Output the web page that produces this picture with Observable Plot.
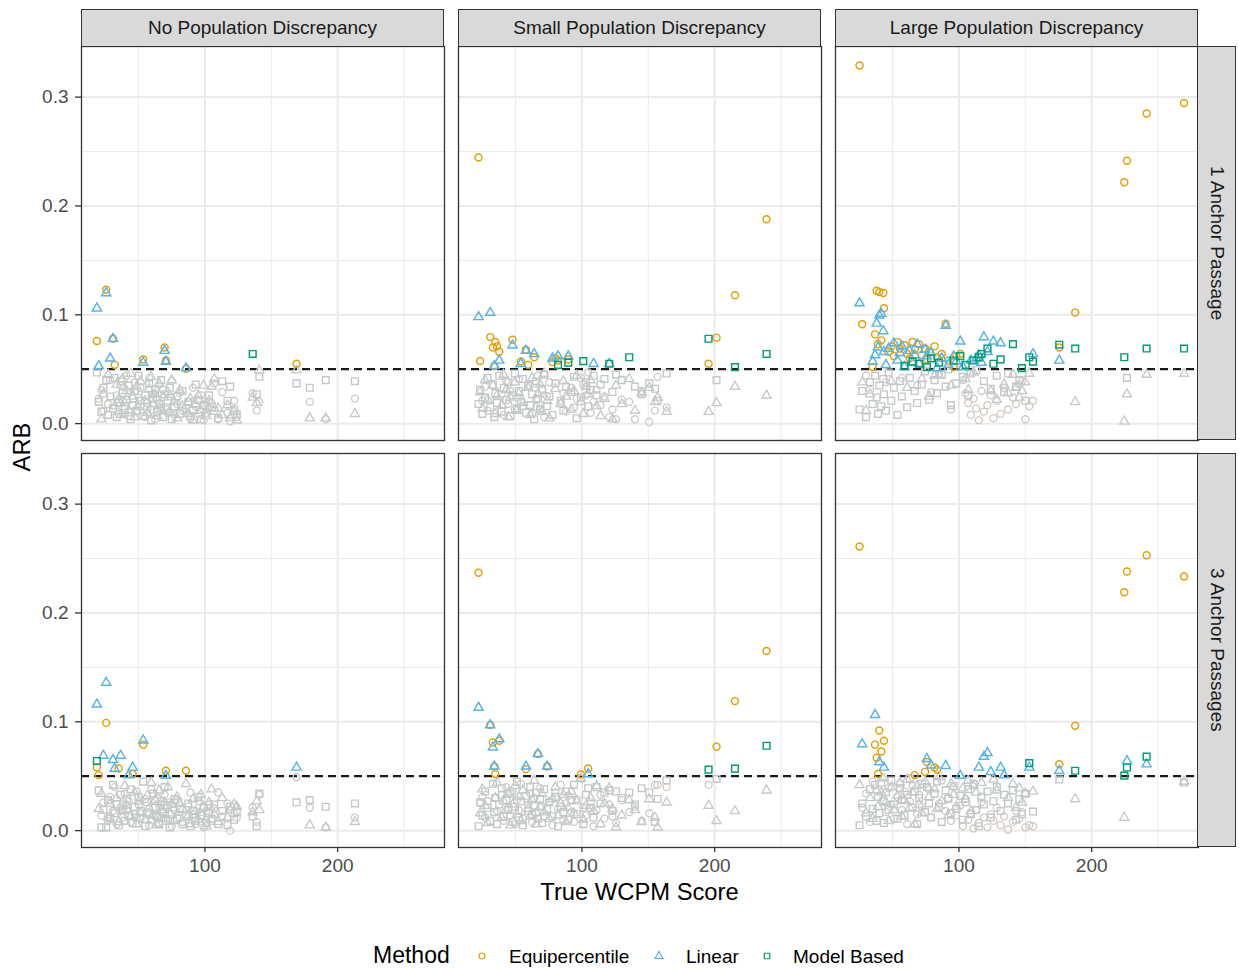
<!DOCTYPE html>
<html><head><meta charset="utf-8">
<script src="https://cdn.jsdelivr.net/npm/d3@7"></script>
<script src="https://cdn.jsdelivr.net/npm/@observablehq/plot@0.6"></script>
<style>
body{margin:0;background:#fff;font-family:"Liberation Sans",Arial,sans-serif;}
#wrap{position:relative;width:1239px;height:968px;overflow:hidden;}
#wrap svg.plot{position:absolute;}
.strip{position:absolute;background:#D9D9D9;border:1.3px solid #333;box-sizing:border-box;display:flex;align-items:center;justify-content:center;font-size:19px;color:#1A1A1A;white-space:nowrap;}
.vstrip{writing-mode:vertical-rl;}
.lbl{position:absolute;white-space:nowrap;color:#000;line-height:1;}
</style></head>
<body><div id="wrap"></div>
<script>
// ---------------- data ----------------
const colLabels = ["No Population Discrepancy","Small Population Discrepancy","Large Population Discrepancy"];
const rowLabels = ["1 Anchor Passage","3 Anchor Passages"];
const methods = ["Equipercentile","Linear","Model Based"];
const xTicks = [100, 200];
const yTicks = [0, 0.1, 0.2, 0.3];
const cutoff = 0.05;

// True WCPM score of each passage (shared by the three methods within a column)
const passages_none = [18.6,20,22,23.5,25.6,27,28.6,30.7,32,33.5,
 35,36.5,38,39.5,41,42.5,44,45.5,47,48.5,
 50,51.5,53.5,55,56.5,58,59.5,61,62.5,64,
 65.5,67,68.5,69.6,70.6,72,73.5,75,77,79,
 81,83,85.7,87.5,89,91,93,95,97,99,
 101,103,105,107,110,113,117,119,122,124,
 136,139,141,169,179,191,213];
const passages_small = [22.1,23.3,25,27,29,30.9,32.9,34,34.7,36,
 37.7,39.5,41,43,44.5,46,47.7,49.5,51,52.5,
 54,55.5,57.8,59.5,61,62.5,64,65.5,66.8,68.5,
 70,71.5,73.8,75.5,77.8,80,82,84,86,88,
 89.7,92,94,96,99.2,101,103,104.7,106.5,108.8,
 111,114,117,120.6,123,125.7,130,135.6,140,145,
 150.7,155,157,163.8,195.4,201.4,215.3,239.1];
const passages_large = [25.1,27.1,30,33,35,36.8,38,39,40,41.5,
 43,43.5,45,47,49,51,53.7,55.5,57,59,
 61,63,65,66.7,68.5,70,72,74.5,75.9,77.5,
 79,81.6,83.5,85,87,90,92,94,96,98,
 101,103,105,107,109,111,113,115,117,118.8,
 121.5,124,126,128.5,131.4,134,137,140.7,143,145.5,
 147.5,150,153,155.8,175.6,187.6,224.6,226.6,241.4,269.6];

// ARB: No discrepancy, 1 anchor
const arb_equi_none_1 = [0.076,0.023,0.031,0.012,0.123,0.018,0.040,0.078,0.054,0.026,
 0.009,0.035,0.021,0.014,0.044,0.007,0.029,0.017,0.038,0.011,
 0.024,0.033,0.059,0.006,0.019,0.042,0.013,0.027,0.004,0.022,
 0.036,0.015,0.031,0.070,0.058,0.010,0.025,0.039,0.008,0.018,
 0.028,0.012,0.0505,0.020,0.005,0.033,0.016,0.009,0.026,0.003,
 0.019,0.014,0.019,0.037,0.004,0.029,0.010,0.002,0.021,0.006,
 0.028,0.012,0.020,0.055,0.020,0.004,0.023];
const arb_lin_none_1 = [0.106,0.053,0.004,0.027,0.120,0.045,0.060,0.078,0.016,0.036,
 0.022,0.008,0.041,0.019,0.030,0.012,0.046,0.025,0.006,0.034,
 0.015,0.039,0.056,0.021,0.010,0.032,0.043,0.018,0.027,0.007,
 0.037,0.013,0.024,0.067,0.057,0.029,0.011,0.040,0.020,0.005,
 0.031,0.016,0.051,0.009,0.023,0.003,0.018,0.026,0.012,0.035,
 0.007,0.021,0.034,0.041,0.014,0.008,0.017,0.005,0.011,0.003,
 0.024,0.019,0.049,0.049,0.005,0.005,0.009];
const arb_mb_none_1 = [0.047,0.020,0.011,0.033,0.040,0.008,0.025,0.014,0.042,0.006,
 0.019,0.039,0.028,0.010,0.022,0.035,0.004,0.017,0.030,0.012,
 0.044,0.021,0.007,0.026,0.015,0.037,0.003,0.023,0.031,0.011,
 0.018,0.040,0.006,0.027,0.013,0.021,0.033,0.004,0.016,0.025,
 0.009,0.030,0.014,0.020,0.007,0.012,0.036,0.022,0.004,0.017,
 0.010,0.026,0.015,0.0117,0.005,0.039,0.021,0.034,0.013,0.0085,
 0.064,0.027,0.043,0.037,0.033,0.040,0.039];
// No discrepancy, 3 anchors
const arb_equi_none_3 = [0.058,0.051,0.014,0.026,0.099,0.009,0.031,0.018,0.040,0.006,
 0.057,0.022,0.012,0.034,0.019,0.027,0.008,0.052,0.015,0.036,
 0.024,0.011,0.079,0.029,0.017,0.005,0.038,0.021,0.013,0.030,
 0.007,0.024,0.016,0.033,0.055,0.010,0.026,0.004,0.019,0.028,
 0.012,0.008,0.055,0.022,0.035,0.015,0.006,0.027,0.011,0.003,
 0.018,0.024,0.009,0.020,0.035,0.013,0.025,0.0,0.016,0.012,
 0.021,0.008,0.033,0.049,0.021,0.003,0.012];
const arb_lin_none_3 = [0.116,0.020,0.034,0.069,0.136,0.012,0.025,0.065,0.057,0.030,
 0.008,0.069,0.018,0.041,0.023,0.051,0.013,0.058,0.035,0.006,
 0.027,0.016,0.083,0.010,0.032,0.021,0.044,0.014,0.028,0.005,
 0.037,0.019,0.011,0.026,0.0505,0.040,0.016,0.024,0.009,0.031,
 0.025,0.020,0.043,0.014,0.006,0.029,0.018,0.010,0.033,0.022,
 0.004,0.026,0.038,0.015,0.008,0.030,0.012,0.019,0.024,0.022,
 0.017,0.027,0.019,0.058,0.005,0.003,0.008];
const arb_mb_none_3 = [0.064,0.037,0.003,0.019,0.003,0.028,0.011,0.042,0.016,0.024,
 0.005,0.033,0.020,0.009,0.029,0.014,0.038,0.007,0.022,0.012,
 0.031,0.018,0.045,0.004,0.026,0.015,0.010,0.034,0.021,0.013,
 0.006,0.027,0.017,0.040,0.009,0.023,0.003,0.015,0.029,0.011,
 0.020,0.006,0.013,0.025,0.004,0.018,0.009,0.031,0.014,0.021,
 0.007,0.016,0.011,0.024,0.006,0.018,0.005,0.022,0.010,0.017,
 0.013,0.004,0.034,0.026,0.028,0.022,0.025];
// Small discrepancy, 1 anchor
const arb_equi_small_1 = [0.2446,0.0575,0.021,0.034,0.012,0.0795,0.070,0.053,0.075,0.071,
 0.066,0.027,0.008,0.039,0.018,0.030,0.077,0.013,0.024,0.041,
 0.057,0.016,0.068,0.054,0.035,0.009,0.061,0.022,0.044,0.014,
 0.031,0.006,0.025,0.038,0.0565,0.060,0.058,0.019,0.028,0.011,
 0.059,0.033,0.015,0.023,0.042,0.036,0.026,0.047,0.010,0.020,
 0.031,0.017,0.025,0.006,0.013,0.004,0.022,0.020,0.004,0.030,
 0.0015,0.012,0.043,0.015,0.055,0.079,0.118,0.1877];
const arb_lin_small_1 = [0.098,0.029,0.014,0.040,0.022,0.102,0.035,0.053,0.009,0.026,
 0.058,0.017,0.045,0.031,0.006,0.024,0.072,0.038,0.012,0.028,
 0.055,0.019,0.067,0.033,0.008,0.042,0.064,0.015,0.027,0.036,
 0.011,0.046,0.021,0.005,0.060,0.032,0.062,0.018,0.039,0.025,
 0.062,0.013,0.030,0.044,0.020,0.009,0.034,0.027,0.040,0.055,
 0.016,0.007,0.023,0.055,0.004,0.035,0.018,0.041,0.012,0.028,
 0.033,0.020,0.024,0.011,0.011,0.019,0.034,0.026];
const arb_mb_small_1 = [0.018,0.031,0.009,0.024,0.042,0.015,0.036,0.006,0.028,0.019,
 0.044,0.011,0.033,0.022,0.038,0.007,0.026,0.046,0.014,0.030,
 0.020,0.041,0.010,0.035,0.017,0.027,0.004,0.039,0.023,0.013,
 0.032,0.045,0.016,0.025,0.008,0.037,0.054,0.021,0.012,0.034,
 0.056,0.029,0.043,0.005,0.024,0.0575,0.038,0.016,0.031,0.044,
 0.026,0.036,0.041,0.055,0.029,0.045,0.040,0.061,0.034,0.027,
 0.037,0.032,0.021,0.046,0.078,0.040,0.052,0.064];
// Small discrepancy, 3 anchors
const arb_equi_small_3 = [0.237,0.025,0.031,0.012,0.027,0.097,0.081,0.059,0.052,0.018,
 0.0825,0.033,0.009,0.040,0.021,0.014,0.036,0.006,0.028,0.019,
 0.043,0.011,0.0565,0.024,0.034,0.008,0.030,0.016,0.0705,0.039,
 0.022,0.013,0.059,0.027,0.005,0.035,0.020,0.042,0.010,0.025,
 0.032,0.017,0.008,0.029,0.0515,0.021,0.014,0.057,0.026,0.004,
 0.019,0.033,0.011,0.024,0.013,0.007,0.028,0.017,0.022,0.009,
 0.016,0.042,0.042,0.040,0.042,0.077,0.119,0.165];
const arb_lin_small_3 = [0.113,0.016,0.038,0.023,0.007,0.097,0.0766,0.059,0.030,0.044,
 0.084,0.012,0.027,0.019,0.035,0.005,0.024,0.041,0.015,0.031,
 0.009,0.037,0.059,0.020,0.013,0.028,0.046,0.006,0.0705,0.022,
 0.034,0.017,0.059,0.011,0.029,0.040,0.014,0.025,0.033,0.008,
 0.021,0.036,0.016,0.027,0.048,0.010,0.023,0.052,0.030,0.018,
 0.041,0.006,0.025,0.039,0.020,0.003,0.014,0.028,0.019,0.008,
 0.029,0.012,0.003,0.026,0.023,0.009,0.018,0.037];
const arb_mb_small_3 = [0.004,0.026,0.014,0.036,0.021,0.009,0.043,0.017,0.030,0.006,
 0.024,0.039,0.013,0.028,0.019,0.034,0.008,0.022,0.045,0.012,
 0.027,0.005,0.032,0.018,0.040,0.015,0.023,0.035,0.011,0.029,
 0.007,0.038,0.020,0.026,0.013,0.031,0.004,0.022,0.017,0.036,
 0.010,0.028,0.042,0.015,0.048,0.006,0.033,0.039,0.021,0.012,
 0.040,0.025,0.035,0.037,0.018,0.036,0.030,0.035,0.024,0.039,
 0.035,0.008,0.029,0.046,0.056,0.0475,0.057,0.078];
// Large discrepancy, 1 anchor
const arb_equi_large_1 = [0.329,0.0914,0.044,0.031,0.052,0.082,0.122,0.073,0.121,0.0765,
 0.120,0.106,0.038,0.066,0.071,0.062,0.0749,0.069,0.042,0.072,
 0.064,0.060,0.075,0.068,0.035,0.073,0.063,0.069,0.059,0.066,
 0.029,0.071,0.061,0.046,0.064,0.0917,0.058,0.013,0.052,0.062,
 0.064,0.040,0.028,0.019,0.008,0.023,0.014,0.003,0.030,0.011,
 0.017,0.026,0.005,0.021,0.009,0.033,0.013,0.024,0.018,0.036,
 0.039,0.004,0.016,0.021,0.070,0.102,0.2217,0.2416,0.285,0.2945];
const arb_lin_large_1 = [0.1107,0.038,0.012,0.027,0.057,0.063,0.092,0.070,0.0994,0.101,
 0.085,0.066,0.054,0.069,0.039,0.074,0.058,0.065,0.071,0.052,
 0.033,0.067,0.056,0.063,0.073,0.055,0.041,0.068,0.062,0.025,
 0.065,0.044,0.051,0.044,0.060,0.090,0.054,0.035,0.062,0.057,
 0.0755,0.052,0.041,0.031,0.058,0.047,0.060,0.063,0.056,0.0795,
 0.066,0.030,0.0755,0.022,0.074,0.036,0.028,0.045,0.033,0.024,
 0.030,0.038,0.046,0.064,0.058,0.020,0.002,0.027,0.045,0.046];
const arb_mb_large_1 = [0.013,0.030,0.006,0.038,0.018,0.044,0.024,0.009,0.035,0.016,
 0.041,0.027,0.012,0.047,0.021,0.033,0.008,0.039,0.025,0.053,
 0.015,0.042,0.057,0.030,0.019,0.055,0.036,0.048,0.052,0.022,
 0.060,0.040,0.028,0.056,0.045,0.034,0.050,0.017,0.058,0.037,
 0.062,0.043,0.054,0.026,0.046,0.058,0.049,0.061,0.064,0.039,
 0.069,0.032,0.055,0.044,0.059,0.029,0.046,0.073,0.034,0.040,
 0.051,0.021,0.061,0.057,0.0725,0.069,0.061,0.042,0.069,0.069];
// Large discrepancy, 3 anchors
const arb_equi_large_3 = [0.261,0.021,0.034,0.008,0.045,0.079,0.067,0.052,0.092,0.0727,
 0.028,0.0825,0.017,0.039,0.024,0.011,0.031,0.043,0.019,0.036,
 0.006,0.027,0.041,0.051,0.015,0.033,0.022,0.054,0.063,0.038,
 0.012,0.058,0.056,0.025,0.046,0.018,0.030,0.009,0.040,0.014,
 0.023,0.004,0.029,0.010,0.016,0.002,0.019,0.007,0.026,0.012,
 0.003,0.015,0.009,0.021,0.005,0.013,0.001,0.008,0.018,0.011,
 0.017,0.003,0.005,0.004,0.061,0.0963,0.219,0.238,0.253,0.2334];
const arb_lin_large_3 = [0.042,0.0795,0.016,0.030,0.011,0.1064,0.037,0.022,0.063,0.035,
 0.048,0.058,0.026,0.009,0.040,0.019,0.032,0.044,0.013,0.028,
 0.047,0.021,0.035,0.006,0.041,0.024,0.016,0.045,0.066,0.031,
 0.060,0.038,0.020,0.049,0.027,0.0596,0.014,0.043,0.033,0.022,
 0.0505,0.039,0.029,0.046,0.018,0.041,0.035,0.058,0.044,0.068,
 0.0715,0.054,0.047,0.037,0.058,0.051,0.030,0.043,0.021,0.039,
 0.026,0.034,0.058,0.036,0.055,0.029,0.012,0.064,0.061,0.045];
const arb_mb_large_3 = [0.005,0.025,0.013,0.038,0.020,0.042,0.009,0.031,0.016,0.044,
 0.027,0.007,0.035,0.019,0.046,0.024,0.011,0.039,0.028,0.014,
 0.033,0.048,0.021,0.036,0.006,0.030,0.043,0.017,0.040,0.025,
 0.012,0.034,0.045,0.022,0.008,0.037,0.029,0.016,0.041,0.020,
 0.032,0.010,0.026,0.038,0.015,0.043,0.019,0.004,0.031,0.024,
 0.036,0.012,0.027,0.040,0.018,0.033,0.025,0.037,0.010,0.029,
 0.015,0.034,0.062,0.0175,0.047,0.055,0.0505,0.058,0.068,0.044];

// ---------------- styling ----------------
const methodColors = ["#E69F00", "#56B4E9", "#009E73"];
const greyColors = ["#D2CAC2", "#C5CACD", "#C2C8C7"];
const symbols = ["circle", "triangle", "square"];
const radii = [3.5, 3.4, 3.8];

const panels = [
  {row:0, col:0, x: passages_none,  ys: [arb_equi_none_1,  arb_lin_none_1,  arb_mb_none_1]},
  {row:0, col:1, x: passages_small, ys: [arb_equi_small_1, arb_lin_small_1, arb_mb_small_1]},
  {row:0, col:2, x: passages_large, ys: [arb_equi_large_1, arb_lin_large_1, arb_mb_large_1]},
  {row:1, col:0, x: passages_none,  ys: [arb_equi_none_3,  arb_lin_none_3,  arb_mb_none_3]},
  {row:1, col:1, x: passages_small, ys: [arb_equi_small_3, arb_lin_small_3, arb_mb_small_3]},
  {row:1, col:2, x: passages_large, ys: [arb_equi_large_3, arb_lin_large_3, arb_mb_large_3]}
];

const W = 363, H = 394;
const colLeft = [81, 458, 835];
const rowTop = [46, 453];
const xDomain = [7, 280.5];
const yDomain = [-0.0155, 0.3465];
const wrap = document.getElementById("wrap");

panels.forEach(p => {
  const left = p.col === 0, bottom = p.row === 1;
  const ml = left ? 81 : 0, mb = bottom ? 45 : 0;
  const pts = [];
  p.ys.forEach((arr, m) => arr.forEach((y, i) => pts.push({x: p.x[i], y, m})));
  const marks = [
    Plot.gridX([50, 150, 250], {stroke: "#EBEBEB", strokeOpacity: 1, strokeWidth: 1}),
    Plot.gridY([0.05, 0.15, 0.25], {stroke: "#EBEBEB", strokeOpacity: 1, strokeWidth: 1}),
    Plot.gridX(xTicks, {stroke: "#EBEBEB", strokeOpacity: 1, strokeWidth: 2}),
    Plot.gridY(yTicks, {stroke: "#EBEBEB", strokeOpacity: 1, strokeWidth: 2}),
    Plot.ruleY([cutoff], {stroke: "#1A1A1A", strokeWidth: 2.2, strokeDasharray: "8,5"})
  ];
  methods.forEach((name, m) => marks.push(Plot.dot(pts.filter(d => d.m === m && d.y <= cutoff),
    {x: "x", y: "y", symbol: symbols[m], r: radii[m], stroke: greyColors[m], strokeWidth: 1.35, fill: "none"})));
  methods.forEach((name, m) => marks.push(Plot.dot(pts.filter(d => d.m === m && d.y > cutoff),
    {x: "x", y: "y", symbol: symbols[m], r: radii[m], stroke: methodColors[m], strokeWidth: 1.45, fill: "none"})));
  marks.push(Plot.frame({stroke: "#333333", strokeWidth: 1.3}));
  if (left) marks.push(Plot.axisY(yTicks, {tickFormat: d3.format(".1f"), tickSize: 6, tickPadding: 7, label: null,
    stroke: "#333333", strokeWidth: 1.3, fill: "#4D4D4D", fontSize: 19}));
  if (bottom) marks.push(Plot.axisX(xTicks, {tickFormat: d => String(d), tickSize: 5, tickPadding: 6, label: null,
    stroke: "#333333", strokeWidth: 1.3, fill: "#4D4D4D", fontSize: 19}));
  const svg = Plot.plot({
    width: W + ml, height: H + mb,
    marginLeft: ml, marginRight: 0, marginTop: 0, marginBottom: mb,
    x: {domain: xDomain, axis: null},
    y: {domain: yDomain, axis: null},
    style: {fontFamily: "Liberation Sans, Arial, sans-serif", fontSize: "19px", background: "transparent", overflow: "visible"},
    marks
  });
  svg.classList.add("plot");
  svg.style.left = (colLeft[p.col] - ml) + "px";
  svg.style.top = rowTop[p.row] + "px";
  svg.style.maxWidth = "none";
  wrap.appendChild(svg);
});

// strips
colLabels.forEach((t, c) => {
  const d = document.createElement("div");
  d.className = "strip";
  Object.assign(d.style, {left: colLeft[c] + "px", top: "9px", width: W + "px", height: "38px"});
  d.textContent = t;
  wrap.appendChild(d);
});
rowLabels.forEach((t, r) => {
  const d = document.createElement("div");
  d.className = "strip vstrip";
  Object.assign(d.style, {left: (colLeft[2] + W - 1) + "px", top: rowTop[r] + "px", width: "39px", height: H + "px"});
  d.textContent = t;
  wrap.appendChild(d);
});

// axis titles
function label(text, css) {
  const d = document.createElement("div");
  d.className = "lbl";
  d.textContent = text;
  Object.assign(d.style, css);
  wrap.appendChild(d);
  return d;
}
label("True WCPM Score", {left: "639.5px", top: "892px", transform: "translate(-50%,-50%)", fontSize: "23.75px"});
label("ARB", {left: "22px", top: "446.5px", transform: "translate(-50%,-50%) rotate(-90deg)", fontSize: "23.75px"});

// legend
const legendY = 955;
label("Method", {left: "373px", top: legendY + "px", transform: "translateY(-50%)", fontSize: "23px"});
const legendItems = [
  {sym: "circle", x: 482, tx: 509},
  {sym: "triangle", x: 659, tx: 686},
  {sym: "square", x: 767, tx: 793}
];
legendItems.forEach((it, m) => {
  const s = d3.create("svg").attr("width", 14).attr("height", 14)
    .style("position", "absolute").style("left", (it.x - 7) + "px").style("top", (legendY + 1 - 7) + "px");
  s.append("path").attr("transform", "translate(7,7)")
    .attr("d", d3.symbol(it.sym === "circle" ? d3.symbolCircle : it.sym === "triangle" ? d3.symbolTriangle : d3.symbolSquare, it.sym === "square" ? 30 : 28)())
    .attr("fill", "none").attr("stroke", methodColors[m]).attr("stroke-width", 1.2);
  wrap.appendChild(s.node());
  label(methods[m], {left: it.tx + "px", top: (legendY + 1) + "px", transform: "translateY(-50%)", fontSize: "19px"});
});
</script></body></html>
